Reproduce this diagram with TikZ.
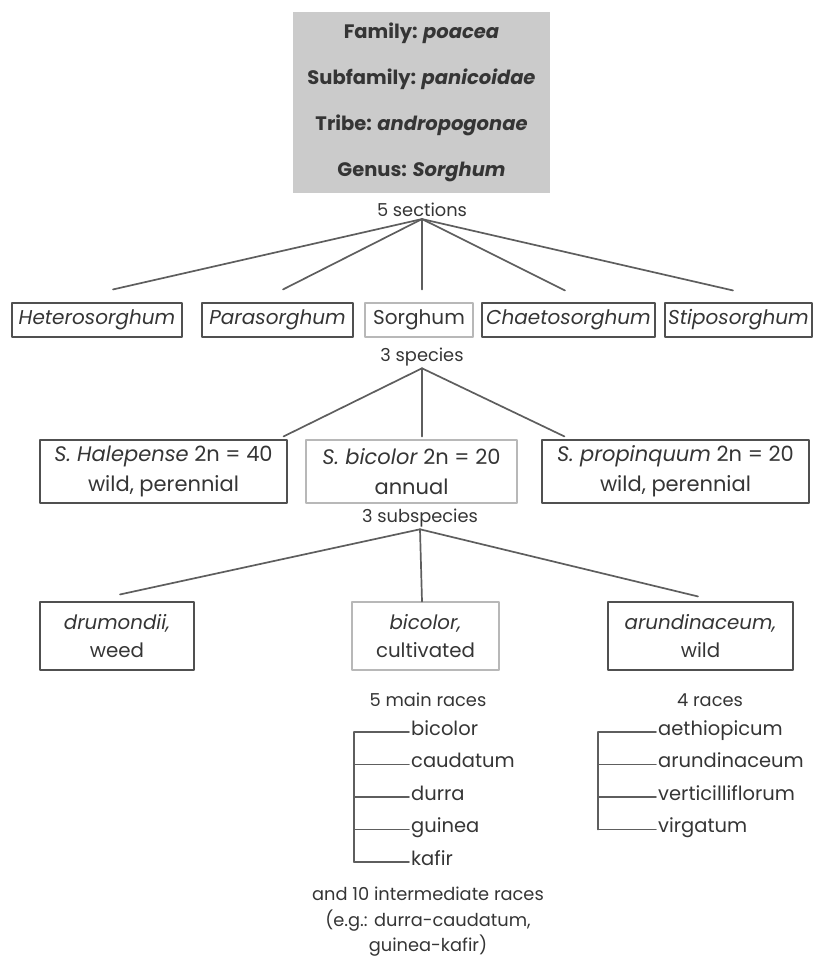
\documentclass[tikz,border=0pt]{standalone}
\usepackage{fontspec}
\setmainfont{Poppins}
\usepackage{tikz}
\usetikzlibrary{positioning}
\definecolor{ink}{HTML}{353535}
\definecolor{linegray}{HTML}{5E5E5E}
\definecolor{boxline}{HTML}{505050}
\definecolor{faint}{HTML}{B8B8B8}
\definecolor{topgray}{HTML}{CBCBCB}
\begin{document}
\begin{tikzpicture}[x=1pt,y=-1pt,line cap=round,line join=round,
  topbox/.style={fill=topgray,inner sep=0pt,text=ink,align=center,minimum width=257pt,minimum height=181pt,font=\bfseries\fontsize{19.5}{46}\selectfont},
  secbox/.style={draw=boxline,line width=1.1pt,inner sep=0pt,text=ink,minimum height=34pt,font=\fontsize{20}{24}\selectfont},
  spbox/.style={secbox,align=center,minimum height=63pt,font=\fontsize{21}{30}\selectfont},
  subbox/.style={spbox,minimum height=68pt,font=\fontsize{19.8}{28}\selectfont},
  faintbox/.style={draw=faint},
  count/.style={text=ink,inner sep=2pt,align=center,font=\fontsize{17.8}{25.5}\selectfont},
  branch/.style={draw=linegray,line width=1.7pt},
  twig/.style={draw=linegray,line width=1.5pt},
  race/.style={text=ink,anchor=west,inner sep=2pt,text height=1.5ex,text depth=.4ex,font=\fontsize{19.5}{22}\selectfont}]
\useasboundingbox (0,0) rectangle (813,959);

% classification
\node[topbox] (genus) at (421.5,102.5) {Family: \textit{poacea}\\Subfamily: \textit{panicoidae}\\Tribe: \textit{andropogonae}\\Genus: \textit{Sorghum}};

% sections
\node[count] (nsec) at (422,210) {5 sections};
\node[secbox,minimum width=170pt] (het) at (97,320) {\itshape Heterosorghum};
\node[secbox,minimum width=151pt] (para) at (277.5,320) {\itshape Parasorghum};
\node[secbox,faintbox,minimum width=108pt] (sor) at (419,320) {Sorghum};
\node[secbox,minimum width=173pt] (chae) at (568.5,320) {\itshape Chaetosorghum};
\node[secbox,minimum width=147pt] (stip) at (738.5,320) {\itshape Stiposorghum};
\draw[branch] (nsec.south) -- ([xshift=16pt,yshift=13pt]het.north);
\draw[branch] (nsec.south) -- ([xshift=5.5pt,yshift=13pt]para.north);
\draw[branch] (nsec.south) -- ([xshift=3pt,yshift=13pt]sor.north);
\draw[branch] (nsec.south) -- ([xshift=-3.5pt,yshift=12pt]chae.north);
\draw[branch] (nsec.south) -- ([xshift=-5.5pt,yshift=12pt]stip.north);

% species
\node[count] (nsp) at (422,357) {3 species};
\node[spbox,minimum width=247pt] (hal) at (163.5,471.5) {\textit{S. Halepense} 2n = 40\\wild, perennial};
\node[spbox,faintbox,minimum width=211pt] (bic) at (411.5,471.5) {\textit{S. bicolor} 2n = 20\\annual};
\node[spbox,minimum width=267pt] (prop) at (675.5,471.5) {\textit{S. propinquum} 2n = 20\\wild, perennial};
\draw[branch] (nsp.south) -- ([xshift=-4pt,yshift=3pt]hal.north east);
\draw[branch] (nsp.south) -- ([xshift=10.5pt,yshift=3pt]bic.north);
\draw[branch] (nsp.south) -- ([xshift=23pt,yshift=3pt]prop.north west);

% subspecies
\node[count] (nsub) at (420,518) {3 subspecies};
\node[subbox,minimum width=154pt] (drum) at (117,636) {\textit{drumondii,}\\weed};
\node[subbox,faintbox,minimum width=147pt] (bico) at (425.5,636) {\textit{bicolor,}\\cultivated};
\node[subbox,minimum width=185pt] (arun) at (700.5,636) {\textit{arundinaceum,}\\wild};
\draw[branch] (nsub.south) -- ([xshift=3pt,yshift=7pt]drum.north);
\draw[branch] (nsub.south) -- ([xshift=-3.5pt]bico.north);
\draw[branch] (nsub.south) -- ([xshift=-2.5pt,yshift=5pt]arun.north);

% races
\node[count] (nmain) at (428,700) {5 main races};
\foreach \r [count=\i] in {bicolor,caudatum,durra,guinea,kafir}
  \node[race] (cr\i) at (409,{732+(\i-1)*32.5}) {\r};
\foreach \i in {1,...,5}
  \draw[twig] (cr\i.west) -- ++(-55,0);
\draw[twig] ([xshift=-55pt]cr1.west) -- ([xshift=-55pt]cr5.west);
\node[count] (inter) at (428,922) {and 10 intermediate races\\(e.g.: durra-caudatum,\\guinea-kafir)};

\node[count] (nwild) at (710,700) {4 races};
\foreach \r [count=\i] in {aethiopicum,arundinaceum,verticilliflorum,virgatum}
  \node[race] (wr\i) at (656,{732+(\i-1)*32.5}) {\r};
\foreach \i in {1,...,4}
  \draw[twig] (wr\i.west) -- ++(-58,0);
\draw[twig] ([xshift=-58pt]wr1.west) -- ([xshift=-58pt]wr4.west);
\end{tikzpicture}
\end{document}
